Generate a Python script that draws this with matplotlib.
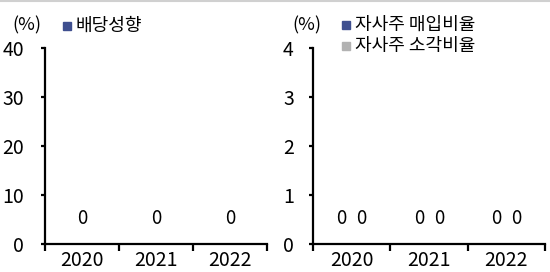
import matplotlib
matplotlib.use("Agg")
import matplotlib.pyplot as plt
import numpy as np
from matplotlib.lines import Line2D
from matplotlib.patches import Rectangle

plt.rcParams['font.family'] = ['Noto Sans CJK KR', 'DejaVu Sans']

years = ['2020', '2021', '2022']
payout = [0, 0, 0]
buyback = [0, 0, 0]
cancel = [0, 0, 0]
left_ticks = [0, 10, 20, 30, 40]
right_ticks = [0, 1, 2, 3, 4]

navy = '#3F4F8F'
gray = '#B2B2B2'

W, H = 550, 272
fig = plt.figure(figsize=(W / 100, H / 100), dpi=100)

def px_axes(x0, x1, y0, y1):
    return fig.add_axes([x0 / W, 1 - y1 / H, (x1 - x0) / W, (y1 - y0) / H])

def style(ax, ticks, pad):
    for s in ['top', 'right']:
        ax.spines[s].set_visible(False)
    for s in ['left', 'bottom']:
        ax.spines[s].set_linewidth(1.6)
    ax.set_xlim(0, 3)
    ax.set_ylim(ticks[0], ticks[-1])
    ax.set_yticks(ticks)
    ax.set_xticks([0, 1, 2, 3])
    ax.set_xticklabels([])
    ax.set_xticks([0.5, 1.5, 2.5], minor=True)
    ax.set_xticklabels(years, minor=True, fontsize=14)
    ax.tick_params(axis='x', which='major', direction='out', length=5, width=1.6)
    ax.tick_params(axis='x', which='minor', length=0, pad=4.5)
    ax.tick_params(axis='y', direction='out', length=3, width=1.6, labelsize=14, pad=pad)
    ax.patch.set_alpha(0)

x = np.arange(len(years)) + 0.5

# Left chart
ax1 = px_axes(45, 267, 48, 244)
style(ax1, left_ticks, 12)
ax1.bar(x, payout, width=0.5, color=navy)
for xi, v in zip(x, payout):
    ax1.annotate(f'{v:g}', (xi, v), xytext=(0, 18.5), textcoords='offset points',
                 ha='center', va='center', fontsize=13.5)

# Right chart
ax2 = px_axes(313, 545, 48, 244)
style(ax2, right_ticks, 10.8)
off = 0.13
ax2.bar(x - off, buyback, width=0.24, color=navy)
ax2.bar(x + off, cancel, width=0.24, color=gray)
for xi, v in zip(x - off, buyback):
    ax2.annotate(f'{v:g}', (xi, v), xytext=(0, 18.5), textcoords='offset points',
                 ha='center', va='center', fontsize=13.5)
for xi, v in zip(x + off, cancel):
    ax2.annotate(f'{v:g}', (xi, v), xytext=(0, 18.5), textcoords='offset points',
                 ha='center', va='center', fontsize=13.5)

# Units and legends
fig.text(12 / W, 1 - 25 / H, '(%)', fontsize=13, va='center', ha='left')
fig.text(292 / W, 1 - 25 / H, '(%)', fontsize=13, va='center', ha='left')

def legend_item(xp, yp, color, label):
    fig.patches.append(Rectangle((xp / W, 1 - (yp + 4) / H), 8 / W, 8 / H,
                                 transform=fig.transFigure, color=color))
    fig.text((xp + 13) / W, 1 - yp / H, label, fontsize=13, va='center', ha='left')

legend_item(63, 26, navy, '배당성향')
legend_item(342, 25, navy, '자사주 매입비율')
legend_item(342, 46, gray, '자사주 소각비율')

# Top gray border line
fig.add_artist(Line2D([0, 1], [1 - 0.5 / H, 1 - 0.5 / H], transform=fig.transFigure,
                      color='#D0D0D0', linewidth=1.5))

fig.savefig('out.png', dpi=100)
